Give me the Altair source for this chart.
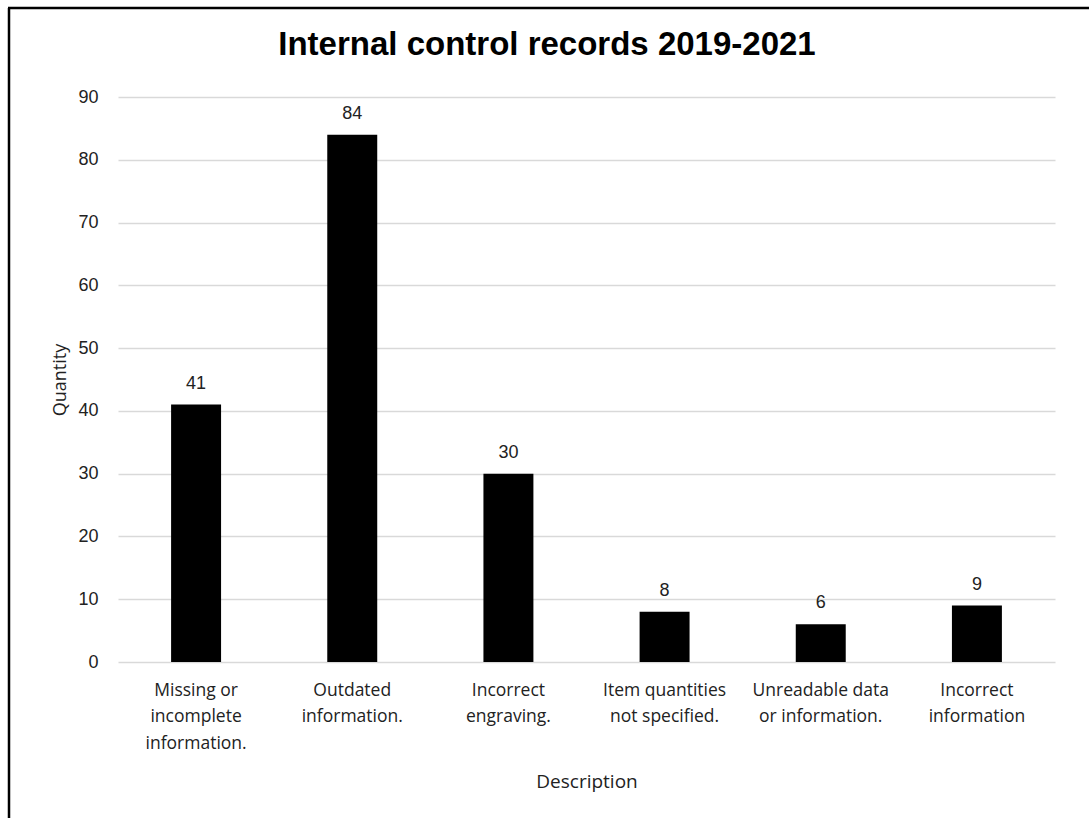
import altair as alt
import pandas as pd

categories = [
    "Missing or|incomplete|information.",
    "Outdated|information.",
    "Incorrect|engraving.",
    "Item quantities|not specified.",
    "Unreadable data|or information.",
    "Incorrect|information",
]
values = [41, 84, 30, 8, 6, 9]
title_text = "Internal control records 2019-2021"

df = pd.DataFrame({"Description": categories, "Quantity": values})

W, H = 937, 565
FONT = "Liberation Sans"
LFONT = "Open Sans"

x = alt.X("Description:N", sort=categories,
          scale=alt.Scale(paddingInner=0.68, paddingOuter=0.34),
          axis=alt.Axis(title="Description", labelAngle=0,
                        labelExpr="split(datum.label, '|')",
                        labelLineHeight=26.5, labelFontSize=17.5, labelPadding=19,
                        labelColor="#222", ticks=False, domain=False,
                        titleFontSize=19, titleFontWeight="normal", titlePadding=21,
                        titleColor="#222", labelFont=LFONT, titleFont=LFONT))
y = alt.Y("Quantity:Q",
          scale=alt.Scale(domain=[0, 90]),
          axis=alt.Axis(values=list(range(0, 91, 10)), title="Quantity",
                        labelFontSize=18, labelColor="#222", labelPadding=20,
                        ticks=False, domain=False, gridColor="#d9d9d9", gridWidth=1.5,
                        titleFontSize=18, titleFontWeight="normal", titlePadding=8,
                        titleColor="#222", labelFont=FONT, titleFont=LFONT))

bars = alt.Chart(df).mark_bar(color="black").encode(x=x, y=y)
labels = alt.Chart(df).mark_text(baseline="bottom", dy=-12, fontSize=18,
                                 font=FONT, color="#222").encode(
    x=alt.X("Description:N", sort=categories), y="Quantity:Q", text="Quantity:Q")

frame_df = pd.DataFrame({"k": [0]})
left_rule = alt.Chart(frame_df).mark_rule(color="black", strokeWidth=2.5).encode(
    x=alt.value(-109), y=alt.value(-89), y2=alt.value(760))
top_rule = alt.Chart(frame_df).mark_rule(color="black", strokeWidth=2.5).encode(
    y=alt.value(-89), x=alt.value(-110), x2=alt.value(980))
title_mark = alt.Chart(pd.DataFrame({"t": [title_text]})).mark_text(
    fontSize=33, font=FONT, fontWeight="bold", color="black", baseline="middle"
).encode(x=alt.value(429), y=alt.value(-52), text="t:N")

chart = alt.layer(bars, labels, left_rule, top_rule, title_mark).properties(
    width=W, height=H,
    autosize=alt.AutoSizeParams(type="none"),
    padding={"left": 118, "top": 97, "right": 34, "bottom": 156},
).configure(background="white", view=alt.ViewConfig(stroke=None))

chart.save("out.html", embed_options={"renderer": "svg", "actions": False})
